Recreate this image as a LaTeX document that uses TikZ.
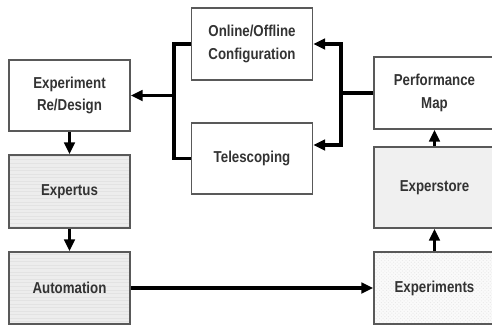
\documentclass[tikz,border=0pt]{standalone}
\usepackage{fontspec}
\setmainfont{Liberation Sans}[FakeStretch=0.84]
\usetikzlibrary{arrows.meta,patterns}
\tikzset{flow/.style={
  x={(0.03cm,0cm)},
  y={(0cm,-0.03cm)},
  >={Triangle[length=10pt,width=9pt]},line join=miter
}}
\tikzset{block/.style={draw=black!65,line width=1.4pt,minimum width=3.63cm,
  minimum height=2.16cm,align=center,inner sep=0pt,text=black!80,
  font=\bfseries\fontsize{13.5}{19}\selectfont}}
\tikzset{striped/.style={preaction={fill=black!7},pattern=horizontal lines,pattern color=black!11}}
\tikzset{dotted box/.style={preaction={fill=black!2},pattern=crosshatch dots,pattern color=black!9}}
\tikzset{link/.style={line width=2.8pt,black}}

\begin{document}
\begin{tikzpicture}[flow]
  \useasboundingbox (0,0) rectangle (492,329);
  % left column
  \node[block,minimum height=2.13cm] (design) at (69.5,95.5) {Experiment\\Re/Design};
  \node[block,striped,minimum height=2.19cm] (expertus) at (69.5,191.5) {Expertus};
  \node[block,striped] (automation) at (69.5,288) {Automation};
  % middle column
  \node[block] (config) at (252,44) {Online/Offline\\Configuration};
  \node[block,minimum height=2.13cm] (telescoping) at (252,158.5) {Telescoping};
  % right column
  \node[block] (perfmap) at (434.5,93) {Performance\\Map};
  \node[block,fill=black!6,minimum height=2.43cm] (experstore) at (434.5,187.5) {Experstore};
  \node[block,dotted box] (experiments) at (434.5,288) {Experiments};
  % junctions
  \coordinate (lj) at (174,95.5);
  \coordinate (rj) at (341,93);
  \draw[link] (config.west) -| (lj) |- (telescoping.west);
  \draw[link,->] (lj) -- (design.east);
  \draw[link] (perfmap.west) -- (rj);
  \draw[link,->] (rj) |- (config.east);
  \draw[link,->] (rj) |- ([yshift=0.405cm]telescoping.east);
  \draw[link,->] (design) -- (expertus);
  \draw[link,->] (expertus) -- (automation);
  \draw[link,->] (automation) -- (experiments);
  \draw[link,->] (experiments) -- (experstore);
  \draw[link,->] (experstore) -- (perfmap);
\end{tikzpicture}
\end{document}
